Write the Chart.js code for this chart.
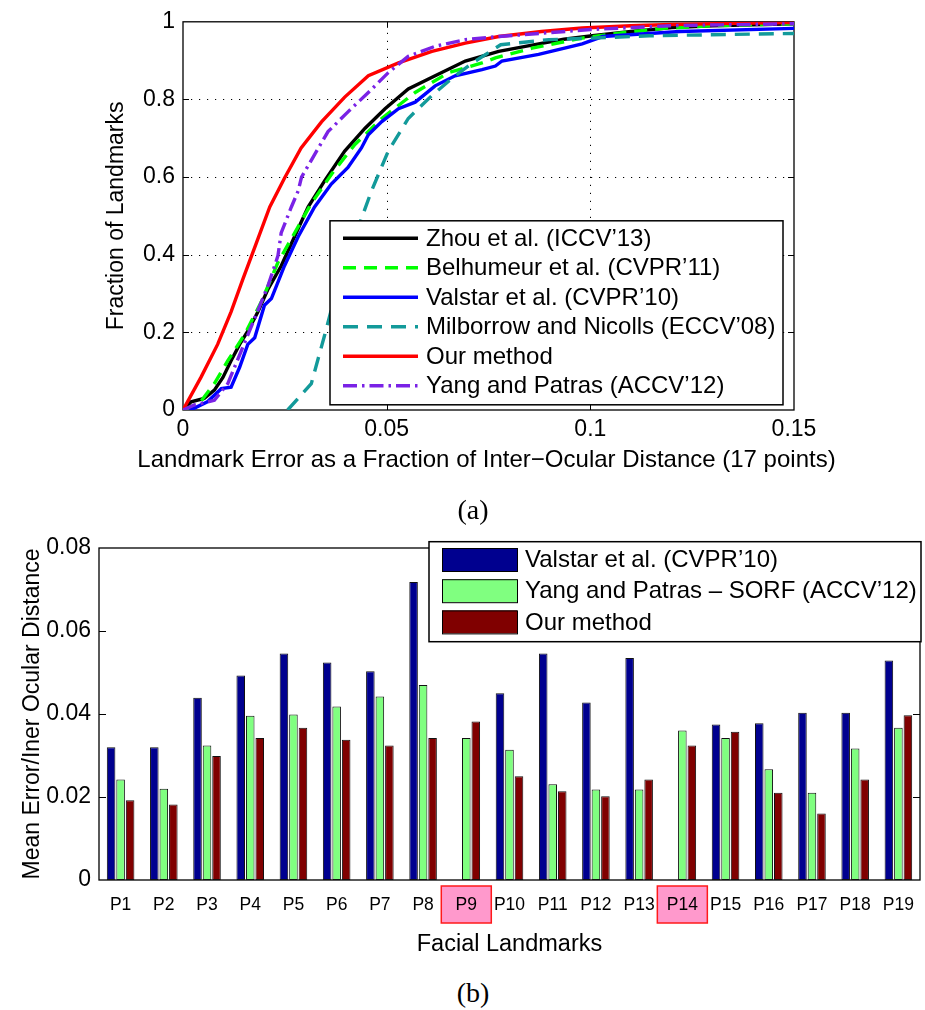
<!DOCTYPE html>
<html>
<head>
<meta charset="utf-8">
<script src="https://cdn.jsdelivr.net/npm/chart.js@4/dist/chart.umd.min.js"></script>
<style>
  html, body { margin: 0; padding: 0; background: #fff; }
  #wrap { position: relative; width: 925px; height: 1010px; overflow: hidden; background: #fff; }
  #cdf { position: absolute; left: 0; top: 0; }
  #bars { position: absolute; left: 0; top: 520px; }
  .cap { position: absolute; font-family: "Liberation Serif", "DejaVu Serif", serif; font-size: 28px;
         color: #000; transform: translate(-50%, -50%); white-space: nowrap; }
</style>
</head>
<body>
<div id="wrap">
  <canvas id="cdf" width="925" height="480"></canvas>
  <canvas id="bars" width="925" height="440"></canvas>
  <div class="cap" style="left:473px; top:510px;">(a)</div>
  <div class="cap" style="left:473px; top:993px;">(b)</div>
</div>
<script>
// ---------- (a) cumulative error curves ----------
const zhouErr  = [0, 0.002, 0.0052, 0.0077, 0.0098, 0.0118, 0.0139, 0.0159, 0.0184, 0.0209, 0.0241, 0.0274, 0.0307, 0.0348, 0.0397, 0.0447, 0.0496, 0.0553, 0.0619, 0.0693, 0.0775, 0.0857, 0.0935, 0.1005, 0.11, 0.12, 0.13, 0.15];
const zhouFrac = [0, 0.021, 0.03, 0.051, 0.084, 0.127, 0.169, 0.203, 0.253, 0.312, 0.371, 0.447, 0.523, 0.591, 0.667, 0.726, 0.776, 0.827, 0.861, 0.899, 0.924, 0.94, 0.955, 0.964, 0.975, 0.985, 0.99, 0.995];

const belhErr  = [0, 0.004, 0.0077, 0.011, 0.0151, 0.0192, 0.0233, 0.0274, 0.0315, 0.0365, 0.0422, 0.0488, 0.057, 0.0652, 0.0734, 0.0767, 0.0857, 0.098, 0.108, 0.118, 0.13, 0.15];
const belhFrac = [0, 0.017, 0.068, 0.127, 0.194, 0.278, 0.38, 0.456, 0.532, 0.608, 0.684, 0.751, 0.818, 0.869, 0.894, 0.907, 0.932, 0.958, 0.972, 0.983, 0.99, 0.995];

const valsErr  = [0.0015, 0.0028, 0.006, 0.0094, 0.0118, 0.0139, 0.0159, 0.0176, 0.02, 0.0217, 0.0249, 0.0283, 0.0323, 0.0364, 0.0405, 0.0438, 0.0455, 0.0488, 0.0529, 0.057, 0.0619, 0.0668, 0.0734, 0.0767, 0.0783, 0.0873, 0.098, 0.103, 0.122, 0.15];
const valsFrac = [0, 0.005, 0.021, 0.055, 0.059, 0.11, 0.169, 0.186, 0.27, 0.287, 0.371, 0.447, 0.523, 0.582, 0.625, 0.675, 0.709, 0.743, 0.776, 0.793, 0.835, 0.861, 0.877, 0.886, 0.899, 0.916, 0.943, 0.962, 0.975, 0.983];

const milbErr  = [0.0257, 0.0315, 0.0348, 0.038, 0.0422, 0.0463, 0.0504, 0.0553, 0.0611, 0.0668, 0.0718, 0.078, 0.0898, 0.1005, 0.1145, 0.15];
const milbFrac = [0, 0.068, 0.194, 0.321, 0.447, 0.565, 0.667, 0.751, 0.81, 0.861, 0.899, 0.941, 0.954, 0.958, 0.964, 0.97];

const oursCdfErr  = [0, 0.0044, 0.0085, 0.0118, 0.0147, 0.018, 0.0213, 0.025, 0.029, 0.034, 0.0397, 0.0455, 0.0529, 0.0611, 0.0693, 0.0775, 0.088, 0.098, 0.11, 0.12, 0.135, 0.15];
const oursCdfFrac = [0, 0.084, 0.169, 0.253, 0.337, 0.43, 0.523, 0.599, 0.675, 0.742, 0.806, 0.861, 0.894, 0.924, 0.945, 0.962, 0.975, 0.984, 0.99, 0.993, 0.996, 0.998];

const yangErr  = [0, 0.0028, 0.0077, 0.011, 0.0143, 0.0176, 0.0209, 0.0233, 0.0241, 0.0266, 0.0283, 0.0291, 0.0323, 0.0356, 0.0405, 0.0455, 0.0504, 0.0553, 0.0619, 0.0693, 0.0775, 0.09, 0.1, 0.12, 0.15];
const yangFrac = [0, 0.013, 0.025, 0.068, 0.152, 0.236, 0.321, 0.397, 0.456, 0.523, 0.565, 0.6, 0.658, 0.717, 0.768, 0.818, 0.869, 0.911, 0.937, 0.954, 0.962, 0.972, 0.98, 0.99, 0.995];

const cdfNames = ['Zhou et al. (ICCV\u201913)', 'Belhumeur et al. (CVPR\u201911)', 'Valstar et al. (CVPR\u201910)',
                  'Milborrow and Nicolls (ECCV\u201908)', 'Our method', 'Yang and Patras (ACCV\u201912)'];
const errTicks = [0, 0.05, 0.1, 0.15];
const errTickLabels = ['0', '0.05', '0.1', '0.15'];
const fracTicks = [0, 0.2, 0.4, 0.6, 0.8, 1];
const fracTickLabels = ['0', '0.2', '0.4', '0.6', '0.8', '1'];
const errAxisTitle = 'Landmark Error as a Fraction of Inter\u2212Ocular Distance (17 points)';

// ---------- (b) per-landmark mean error ----------
const landmarks = ['P1','P2','P3','P4','P5','P6','P7','P8','P9','P10','P11','P12','P13','P14','P15','P16','P17','P18','P19'];
const highlighted = ['P9', 'P14'];
const valstarMean = [0.0320, 0.0320, 0.0439, 0.0493, 0.0546, 0.0524, 0.0503, 0.0718, null, 0.0450, 0.0546, 0.0428, 0.0535, null, 0.0375, 0.0378, 0.0403, 0.0403, 0.0529];
const yangMean    = [0.0242, 0.0220, 0.0324, 0.0396, 0.0399, 0.0418, 0.0442, 0.0470, 0.0342, 0.0314, 0.0231, 0.0218, 0.0218, 0.0360, 0.0342, 0.0267, 0.0210, 0.0317, 0.0367];
const oursMean    = [0.0192, 0.0182, 0.0299, 0.0342, 0.0367, 0.0338, 0.0324, 0.0342, 0.0382, 0.0250, 0.0214, 0.0202, 0.0242, 0.0324, 0.0357, 0.0210, 0.0160, 0.0242, 0.0397];
const barNames = ['Valstar et al. (CVPR\u201910)', 'Yang and Patras \u2013 SORF (ACCV\u201912)', 'Our method'];
const meanTicks = [0, 0.02, 0.04, 0.06, 0.08];
const meanTickLabels = ['0', '0.02', '0.04', '0.06', '0.08'];

const SANS = '"Liberation Sans", Arial, Helvetica, sans-serif';
const pts = (xs, ys) => xs.map((x, i) => ({ x: x, y: ys[i] }));

// Box around the plotting area with inward tick marks (both sides) and optional dotted grid.
const frameBox = {
  id: 'frameBox',
  beforeDatasetsDraw(chart, args, opts) {
    const { ctx, chartArea: a, scales } = chart;
    ctx.save();
    if (opts.gridX || opts.gridY) {
      ctx.strokeStyle = '#000';
      ctx.lineWidth = 1;
      ctx.setLineDash([1.2, 6.8]);
      (opts.gridX || []).forEach(v => {
        const px = Math.round(scales.x.getPixelForValue(v)) + 0.5;
        ctx.beginPath(); ctx.moveTo(px, a.bottom); ctx.lineTo(px, a.top); ctx.stroke();
      });
      (opts.gridY || []).forEach(v => {
        const py = Math.round(scales.y.getPixelForValue(v)) + 0.5;
        ctx.beginPath(); ctx.moveTo(a.left, py); ctx.lineTo(a.right, py); ctx.stroke();
      });
      ctx.setLineDash([]);
    }
    ctx.strokeStyle = '#000';
    ctx.lineWidth = 1.3;
    ctx.strokeRect(a.left, a.top, a.right - a.left, a.bottom - a.top);
    const L = opts.tickLen || 6;
    ctx.lineWidth = 1;
    (opts.ticksX || []).forEach(v => {
      const px = Math.round(scales.x.getPixelForValue(v)) + 0.5;
      ctx.beginPath();
      ctx.moveTo(px, a.bottom); ctx.lineTo(px, a.bottom - L);
      ctx.moveTo(px, a.top); ctx.lineTo(px, a.top + L);
      ctx.stroke();
    });
    (opts.ticksY || []).forEach(v => {
      const py = Math.round(scales.y.getPixelForValue(v)) + 0.5;
      ctx.beginPath();
      ctx.moveTo(a.left, py); ctx.lineTo(a.left + L, py);
      ctx.moveTo(a.right, py); ctx.lineTo(a.right - L, py);
      ctx.stroke();
    });
    ctx.restore();
  }
};

// Framed legend placed over the plot.
const boxLegend = {
  id: 'boxLegend',
  afterDraw(chart, args, opts) {
    const { ctx, chartArea: a } = chart;
    const x0 = opts.fromRight ? a.right - opts.offsetX : a.left + opts.offsetX;
    const y0 = a.top + opts.offsetY;
    ctx.save();
    ctx.fillStyle = '#fff';
    ctx.fillRect(x0, y0, opts.width, opts.height);
    ctx.strokeStyle = '#000';
    ctx.lineWidth = 1.5;
    ctx.strokeRect(x0, y0, opts.width, opts.height);
    ctx.font = opts.font;
    ctx.textBaseline = 'middle';
    ctx.textAlign = 'left';
    chart.data.datasets.forEach((ds, i) => {
      const cy = y0 + opts.firstRow + i * opts.rowGap;
      if (opts.kind === 'line') {
        ctx.setLineDash(ds.borderDash || []);
        ctx.strokeStyle = ds.borderColor;
        ctx.lineWidth = ds.borderWidth;
        ctx.lineCap = 'butt';
        ctx.beginPath();
        ctx.moveTo(x0 + opts.symStart, cy);
        ctx.lineTo(x0 + opts.symEnd, cy);
        ctx.stroke();
        ctx.setLineDash([]);
      } else {
        ctx.fillStyle = ds.backgroundColor;
        ctx.fillRect(x0 + opts.symStart, cy - opts.symH / 2, opts.symEnd - opts.symStart, opts.symH);
        ctx.strokeStyle = '#000';
        ctx.lineWidth = 1;
        ctx.strokeRect(x0 + opts.symStart + 0.5, cy - opts.symH / 2 + 0.5, opts.symEnd - opts.symStart, opts.symH);
      }
      ctx.fillStyle = '#000';
      ctx.fillText(ds.label, x0 + opts.textX, cy + 1);
    });
    ctx.restore();
  }
};

// Horizontal axis caption drawn at its natural width (wider than the plot).
const axisCaption = {
  id: 'axisCaption',
  afterDraw(chart, args, opts) {
    const { ctx, chartArea: a } = chart;
    ctx.save();
    ctx.font = opts.font;
    ctx.fillStyle = '#000';
    ctx.textAlign = 'center';
    ctx.textBaseline = 'middle';
    ctx.fillText(opts.text, (a.left + a.right) / 2 + (opts.dx || 0), a.bottom + opts.dy);
    ctx.restore();
  }
};

// Pink markers behind selected category labels.
const labelMarks = {
  id: 'labelMarks',
  beforeDraw(chart, args, opts) {
    const { ctx, scales } = chart;
    ctx.save();
    (opts.names || []).forEach(n => {
      const idx = chart.data.labels.indexOf(n);
      if (idx < 0) return;
      const cx = scales.x.getPixelForValue(idx) + (opts.shift || 0);
      const x = cx - opts.w / 2, y = scales.x.top + opts.top;
      ctx.fillStyle = '#ff99cc';
      ctx.fillRect(x, y, opts.w, opts.h);
      ctx.strokeStyle = '#ff1a1a';
      ctx.lineWidth = 1.5;
      ctx.strokeRect(x, y, opts.w, opts.h);
    });
    ctx.restore();
  }
};

const cdfStyles = [
  { color: '#000000', dash: [] },
  { color: '#00ff00', dash: [13, 8] },
  { color: '#0000ff', dash: [] },
  { color: '#139a9a', dash: [15, 9] },
  { color: '#ff0000', dash: [] },
  { color: '#7a22e6', dash: [14, 5, 2.5, 5] }
];
const cdfData = [pts(zhouErr, zhouFrac), pts(belhErr, belhFrac), pts(valsErr, valsFrac),
                 pts(milbErr, milbFrac), pts(oursCdfErr, oursCdfFrac), pts(yangErr, yangFrac)];

new Chart(document.getElementById('cdf'), {
  type: 'line',
  data: {
    datasets: cdfData.map((d, i) => ({
      label: cdfNames[i],
      data: d,
      borderColor: cdfStyles[i].color,
      borderDash: cdfStyles[i].dash,
      borderWidth: 3.4,
      pointRadius: 0,
      tension: 0,
      fill: false,
      order: cdfData.length - i
    }))
  },
  options: {
    responsive: false,
    animation: false,
    devicePixelRatio: 1,
    layout: { padding: { left: 100, right: 131, top: 16, bottom: 4 } },
    plugins: {
      legend: { display: false },
      tooltip: { enabled: false },
      frameBox: { gridX: [0.05, 0.1], gridY: [0.2, 0.4, 0.6, 0.8], ticksX: [0.05, 0.1], ticksY: [0.2, 0.4, 0.6, 0.8], tickLen: 6 },
      boxLegend: { kind: 'line', offsetX: 147, offsetY: 199, width: 453, height: 184, firstRow: 17.5, rowGap: 29.5,
                   symStart: 13, symEnd: 88, textX: 96, font: '24px ' + SANS },
      axisCaption: { text: errAxisTitle, font: '24px ' + SANS, dy: 50, dx: -2 }
    },
    scales: {
      x: {
        type: 'linear', min: 0, max: 0.15,
        afterBuildTicks: s => { s.ticks = errTicks.map(v => ({ value: v })); },
        afterFit: s => { s.height = 480 - 410 - 4; },
        grid: { display: false, drawTicks: false },
        border: { display: false },
        ticks: { callback: (v, i) => errTickLabels[i], color: '#000', font: { family: SANS, size: 23 }, padding: 6, maxRotation: 0, autoSkip: false }
      },
      y: {
        type: 'linear', min: 0, max: 1,
        afterBuildTicks: s => { s.ticks = fracTicks.map(v => ({ value: v })); },
        afterFit: s => { s.width = 183 - 100; },
        grid: { display: false, drawTicks: false },
        border: { display: false },
        ticks: { callback: (v, i) => fracTickLabels[i], color: '#000', font: { family: SANS, size: 23 }, padding: 8 },
        title: { display: true, text: 'Fraction of Landmarks', color: '#000', font: { family: SANS, size: 23 }, padding: { top: 3, bottom: 0 } }
      }
    }
  },
  plugins: [frameBox, boxLegend, axisCaption]
});

const barColors = ['#00008f', '#80ff80', '#800000'];
const barSeries = [valstarMean, yangMean, oursMean];

new Chart(document.getElementById('bars'), {
  type: 'bar',
  data: {
    labels: landmarks,
    datasets: barSeries.map((d, i) => ({
      label: barNames[i],
      data: d,
      backgroundColor: barColors[i],
      borderColor: '#111',
      borderWidth: 1,
      borderSkipped: false,
      categoryPercentage: 0.66,
      barPercentage: 0.9
    }))
  },
  options: {
    responsive: false,
    animation: false,
    devicePixelRatio: 1,
    layout: { padding: { left: 16, right: 5, top: 28, bottom: 0 } },
    plugins: {
      legend: { display: false },
      tooltip: { enabled: false },
      frameBox: { ticksY: [0.02, 0.04, 0.06], tickLen: 7 },
      labelMarks: { names: highlighted, w: 50, h: 37, top: 6 },
      boxLegend: { kind: 'box', fromRight: true, offsetX: 491, offsetY: -6.3, width: 492, height: 100, firstRow: 17.8, rowGap: 31.2,
                   symStart: 13, symEnd: 88, symH: 23, textX: 96, font: '24px ' + SANS }
    },
    scales: {
      x: {
        type: 'category',
        afterFit: s => { s.height = 440 - 360; },
        grid: { display: false, tickLength: 8 },
        border: { display: false },
        ticks: { color: '#000', font: { family: SANS, size: 17.5 }, padding: 7, maxRotation: 0, autoSkip: false },
        title: { display: true, text: 'Facial Landmarks', color: '#000', font: { family: SANS, size: 23.5 }, padding: { top: 0, bottom: 1 } }
      },
      y: {
        type: 'linear', min: 0, max: 0.08,
        afterBuildTicks: s => { s.ticks = meanTicks.map(v => ({ value: v })); },
        afterFit: s => { s.width = 99 - 16; },
        grid: { display: false, drawTicks: false },
        border: { display: false },
        ticks: { callback: (v, i) => meanTickLabels[i], color: '#000', font: { family: SANS, size: 23 }, padding: 8 },
        title: { display: true, text: 'Mean Error/Iner Ocular Distance', color: '#000', font: { family: SANS, size: 23 }, padding: { top: 3, bottom: 0 } }
      }
    }
  },
  plugins: [labelMarks, frameBox, boxLegend]
});
</script>
</body>
</html>
